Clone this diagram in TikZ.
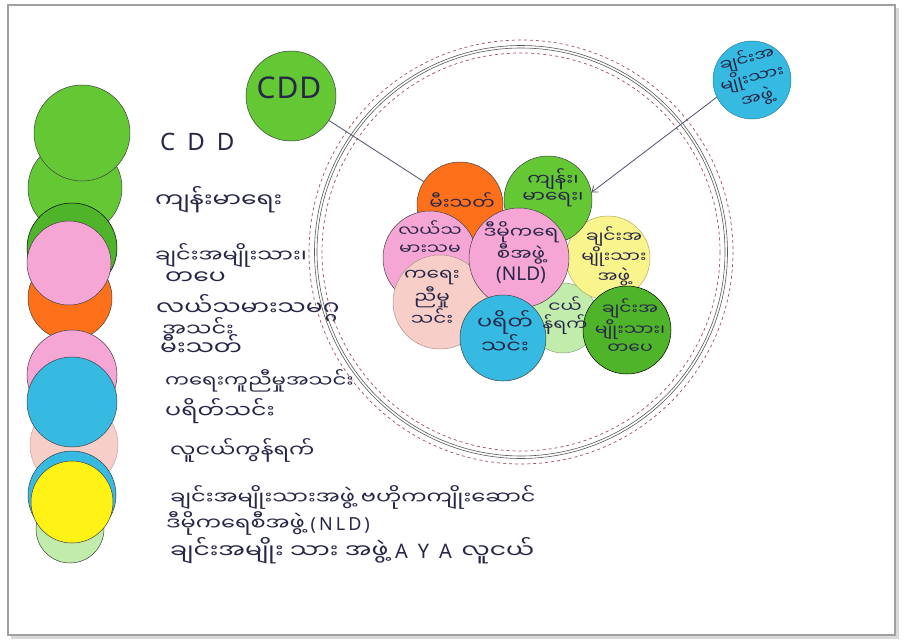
\documentclass[tikz,border=0pt]{standalone}
\usepackage{fontspec}
\setmainfont{Noto Sans}
\newfontfamily\mya[Script=Myanmar, FakeStretch=1.25]{Noto Sans Myanmar UI}
\usetikzlibrary{arrows.meta, positioning}

\definecolor{leafgreen}{RGB}{100,200,52}
\definecolor{darkleaf}{RGB}{80,180,42}
\definecolor{tangerine}{RGB}{255,112,26}
\definecolor{candy}{RGB}{246,166,212}
\definecolor{blush}{RGB}{248,206,200}
\definecolor{sky}{RGB}{54,186,226}
\definecolor{lemon}{RGB}{255,242,20}
\definecolor{paleyellow}{RGB}{250,244,140}
\definecolor{mint}{RGB}{194,236,172}
\definecolor{ink}{RGB}{38,38,72}
\definecolor{rustdash}{RGB}{160,80,90}

\newcommand{\lat}[2]{{\normalfont\fontsize{#1}{#1}\selectfont #2}}

\begin{document}
\begin{tikzpicture}[
        x=1pt, y=-1pt,
        every node/.style={font=\mya\fontsize{16}{20}\selectfont, text=ink},
        disc/.style={circle, draw=black!75, line width=0.5pt, inner sep=0pt, align=center},
        keytext/.style={anchor=west, inner sep=0pt},
        keysize/.style={font=\mya\fontsize{#1}{#1}\selectfont},
        smalltext/.style={align=center, font=\mya\fontsize{15}{18}\selectfont},
        arr/.style={-{Straight Barb[length=5pt, width=8pt]}, draw=ink!80, line width=0.8pt},
    ]
    \useasboundingbox (0,0) rectangle (905,642);

    %% ===== Paper frame =====
    \fill[gray!30] (11,8) rectangle (899,639);
    \fill[white, draw=gray!75, line width=1.2pt] (8,5) rectangle (895,635);

    %% ===== Legend discs (left column) =====
    \node[disc, fill=leafgreen, minimum size=94pt] (keyHealth) at (75,188) {};
    \node[disc, fill=leafgreen, minimum size=96pt] (keyCdd) at (82,133) {};
    \node[disc, fill=darkleaf, draw=black, minimum size=90pt] (keyArmy) at (72,248) {};
    \node[disc, fill=tangerine, minimum size=84pt] (keyFire) at (70,298) {};
    \node[disc, fill=candy, minimum size=84pt] (keyFarmer) at (69,263) {};
    \node[disc, fill=candy, minimum size=90pt] (keyRelief) at (72,375) {};
    \node[disc, fill=blush, draw=blush!80!black, minimum size=88pt] (keyYouth) at (74,445) {};
    \node[disc, fill=sky, minimum size=90pt] (keyParitta) at (72,402) {};
    \node[disc, fill=sky, minimum size=88pt] (keyChin) at (72,495) {};
    \node[disc, fill=mint, minimum size=68pt] (keyAya) at (70,529) {};
    \node[disc, fill=lemon, minimum size=82pt] (keyNld) at (72,502) {};

    %% ===== Legend texts =====
    \node[keytext, font=\fontsize{24}{24}\selectfont] (txtCdd) at (160,142) {C\,\,\,D\,\,\,D};
    \node[keytext, keysize=20] (txtHealth) at (155,200) {ကျန်းမာရေး};
    \node[keytext, keysize=18] (txtArmyA) at (155,255) {ချင်းအမျိုးသား၊};
    \node[keytext, keysize=20] (txtArmyB) at (165,278) {တပေ};
    \node[keytext, keysize=20] (txtFarmerA) at (156,308) {လယ်သမားသမဂ္ဂ};
    \node[keytext, keysize=18] (txtFarmerB) at (162,327) {အသင်း};
    \node[keytext, keysize=20] (txtFire) at (160,345) {မီးသတ်};
    \node[keytext, keysize=17] (txtRelief) at (165,381) {ကရေးကူညီမှုအသင်း};
    \node[keytext, keysize=19] (txtParitta) at (165,411) {ပရိတ်သင်း};
    \node[keytext, keysize=18] (txtYouth) at (170,450) {လူငယ်ကွန်ရက်};
    \node[keytext, keysize=18] (txtChin) at (170,497) {ချင်းအမျိုးသားအဖွဲ့ ဗဟိုကကျိုးဆောင်};
    \node[keytext, keysize=18] (txtNld) at (166,523) {ဒီမိုကရေစီအဖွဲ့ \lat{18}{(\,N\,L\,D\,)}};
    \node[keytext, keysize=20] (txtAya) at (170,551) {ချင်းအမျိုး သား အဖွဲ့ \lat{20}{A\,\,\,Y\,\,\,A}\, လူငယ်};

    %% ===== Big ring =====
    \draw[rustdash, dashed, line width=0.7pt] (521,252) circle[radius=212];
    \draw[gray!70!black, line width=0.6pt] (521,252) circle[radius=206.5];
    \draw[gray!70!black, line width=0.6pt] (521,252) circle[radius=204];
    \draw[rustdash, dashed, line width=0.7pt] (521,252) circle[radius=199];

    %% ===== Cluster of discs =====
    \node[disc, fill=mint, draw=mint!70!black, minimum size=70pt] (youth) at (563,318) {};
    \node[disc, fill=paleyellow, draw=paleyellow!70!black, minimum size=84pt] (chinB) at (608,258) {};
    \node[disc, fill=tangerine, minimum size=86pt] (fire) at (460,205) {};
    \node[disc, fill=leafgreen, minimum size=88pt] (health) at (548,200) {};
    \node[disc, fill=candy, minimum size=94pt] (farmer) at (430,258) {};
    \node[disc, fill=blush, draw=blush!70!black, minimum size=94pt] (relief) at (440,302) {};
    \node[disc, fill=candy, minimum size=100pt] (nld) at (519,258) {};
    \node[disc, fill=sky, minimum size=86pt] (paritta) at (503,338) {};
    \node[disc, fill=darkleaf, draw=black, minimum size=88pt] (army) at (627,330) {};

    %% texts on the cluster
    \node[align=center] (fireTxt) at (462,201) {မီးသတ်};
    \node[smalltext, font=\mya\fontsize{16}{17}\selectfont] (healthTxt) at (553,188) {ကျန်း၊\\မာရေး၊};
    \node[smalltext] (farmerTxt) at (430,238) {လယ်သ\\မားသမ};
    \node[align=center] (reliefTxt) at (432,298) {ကရေး\\ညီမှု\\သင်း};
    \node[smalltext] (youthTxt) at (565,316) {ငယ်\\န်ရက်};
    \node[smalltext] (chinBTxt) at (614,256) {ချင်းအ\\မျိုးသား\\အဖွဲ့};
    \node[align=center] (nldTxt) at (521,253) {ဒီမိုကရေ\\စီအဖွဲ့\\\lat{19}{(NLD)}};
    \node[align=center, font=\mya\fontsize{18}{20}\selectfont] (parittaTxt) at (505,332) {ပရိတ်\\သင်း};
    \node[smalltext] (armyTxt) at (630,326) {ချင်းအ\\မျိုးသား၊\\တပေ};

    %% ===== Outside discs =====
    \node[disc, fill=leafgreen, minimum size=90pt] (cdd) at (291,96) {};
    \node[font=\fontsize{30}{30}\selectfont] (cddTxt) at (289,88) {C\kern1ptD\kern1ptD};
    \node[disc, fill=sky, draw=sky!70!black, minimum size=78pt] (chinTop) at (752,80) {};
    \node[smalltext, font=\mya\fontsize{15}{20}\selectfont, rotate=15] (chinTopTxt) at (752,78) {ချင်းအ\\မျိုးသား\\အဖွဲ့};

    %% ===== Connectors =====
    \draw[ink!80, line width=0.8pt] (cdd) -- (fire);
    \draw[arr] (chinTop.206) -- (health.10);

\end{tikzpicture}
\end{document}
